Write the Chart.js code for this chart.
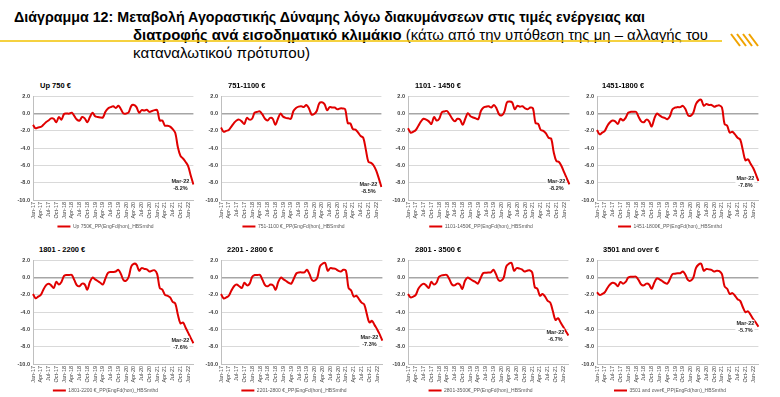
<!DOCTYPE html>
<html>
<head>
<meta charset="utf-8">
<script src="https://cdn.jsdelivr.net/npm/chart.js@4"></script>
<style>
  body { margin: 0; background: #fff; }
  #page { position: relative; width: 780px; height: 397px; overflow: hidden; background: #fff;
          font-family: "Liberation Sans Narrow", "Liberation Sans", Arial, sans-serif; }
  .tl { position: absolute; white-space: nowrap; font-size: 15px; line-height: 18px; color: #000;
        transform-origin: left center; }
  .tl b { font-weight: bold; }
  .pt { position: absolute; white-space: nowrap; font-size: 7.5px; line-height: 9px; font-weight: bold; color: #000;
        font-family: "Liberation Sans", Arial, sans-serif; }
  canvas { position: absolute; }
</style>
</head>
<body>
<div id="page">
  <div class="tl" data-w="631" style="left:14px; top:8px;"><b>Διάγραμμα 12: Μεταβολή Αγοραστικής Δύναμης λόγω διακυμάνσεων στις τιμές ενέργειας και</b></div>
  <div class="tl" data-w="575" style="left:133px; top:26px;"><b>διατροφής ανά εισοδηματικό κλιμάκιο</b> (κάτω από την υπόθεση της μη – αλλαγής του</div>
  <div class="tl" data-w="177" style="left:133px; top:44px;">καταναλωτικού πρότυπου)</div>
  <svg style="position:absolute; left:0; top:0;" width="780" height="60">
    <line x1="0" y1="41" x2="722" y2="41" stroke="#f2c200" stroke-width="1.5"/>
    <line x1="731" y1="34" x2="740" y2="46" stroke="#f0a300" stroke-width="2"/>
    <line x1="737" y1="34" x2="746" y2="46" stroke="#f0a300" stroke-width="2"/>
    <line x1="743" y1="34" x2="752" y2="46" stroke="#f0a300" stroke-width="2"/>
    <line x1="749" y1="34" x2="758" y2="46" stroke="#f0a300" stroke-width="2"/>
  </svg>
</div>

<script>
/* category labels */
const monthNames = ["Jan", "Feb", "Mar", "Apr", "May", "Jun", "Jul", "Aug", "Sep", "Oct", "Nov", "Dec"];
const yearNames = ["17", "18", "19", "20", "21", "22"];
const lastLabel = "Mar-22";

const panelTitles = ["Up 750 €", "751-1100 €", "1101 - 1450 €", "1451-1800 €",
                     "1801 - 2200 €", "2201 - 2800 €", "2801 - 3500 €", "3501 and over €"];

const legendNames = ["Up 750€_PP(EngFd(hon)_HBSmthd", "751-1100 €_PP(EngFd(hon)_HBSmthd",
                     "1101-1450€_PP(EngFd(hon)_HBSmthd", "1451-1800€_PP(EngFd(hon)_HBSmthd",
                     "1801-2200 €_PP(EngFd(hon)_HBSmthd", "2201-2800 €_PP(EngFd(hon)_HBSmthd",
                     "2801-3500€_PP(EngFd(hon)_HBSmthd", "3501 and over€_PP(EngFd(hon)_HBSmthd"];

/* series values, Jan-17 .. Mar-22 */
const upTo750 = [
  -1.3, -1.7, -1.6, -1.55, -1.3, -1.0, -0.8, -0.55, -0.6, -1.0, -0.4, -0.7,
  -0.05, 0.0, 0.0, 0.1, -0.3, -0.7, -0.8, -0.4, -0.55, -1.0, -0.4, 0.1,
  -0.3, -0.4, -0.45, -0.45, 0.2, 0.6, 0.75, 0.85, 0.65, 0.9, 0.5, 0.0,
  0.0, 0.15, 0.9, 1.0, 0.75, 0.1, 0.4, 0.35, 0.45, 0.2, 0.3, 0.4,
  0.4, -0.8, -0.8, -1.4, -1.4, -1.5, -1.8, -2.25, -3.9, -4.9, -5.2, -5.6,
  -6.1, -7.2, -8.2
];
const r751_1100 = [
  -1.6, -2.1, -2.0, -1.9, -1.5, -1.1, -0.8, -0.7, -0.9, -1.2, -0.5, -0.7,
  -0.6, 0.1, 0.2, 0.25, -0.1, -0.6, -0.8, -0.5, -0.6, -1.3, -0.6, 0.0,
  -0.35, -0.5, -0.55, -0.6, 0.3, 0.65, 0.8, 0.85, 0.75, 1.0, 0.6, -0.1,
  -0.05, 0.3, 1.2, 1.3, 1.1, 0.4, 0.75, 0.7, 0.7, 0.5, 0.6, 0.6,
  0.5, -1.1, -1.15, -1.8, -1.85, -2.2, -2.6, -2.8, -4.2, -5.6, -5.7, -6.0,
  -6.6, -7.5, -8.5
];
const r1101_1450 = [
  -1.7, -2.2, -2.1, -1.9, -1.4, -0.9, -0.6, -0.7, -0.9, -1.2, -0.4, -0.8,
  -0.6, 0.15, 0.25, 0.3, -0.1, -0.6, -0.9, -0.6, -0.7, -1.3, -0.6, 0.05,
  -0.3, -0.45, -0.55, -0.65, 0.3, 0.7, 0.8, 0.85, 0.7, 1.0, 0.6, -0.1,
  -0.2, 0.2, 1.3, 1.4, 1.3, 0.5, 0.9, 0.8, 0.85, 0.6, 0.5, 0.7,
  0.6, -1.1, -1.2, -1.9, -2.0, -2.3, -2.8, -2.9, -4.5, -5.5, -5.6, -6.1,
  -6.8, -7.5, -8.2
];
const r1451_1800 = [
  -1.9, -2.4, -2.2, -2.0, -1.4, -1.0, -0.8, -0.9, -1.2, -0.6, -0.8, -0.5,
  0.1, 0.2, 0.2, 0.2, -0.4, -0.9, -1.0, -0.7, -0.9, -1.5, -0.6, 0.0,
  -0.2, -0.4, -0.5, -0.65, -0.3, 0.5, 0.7, 0.75, 0.75, 0.9, 0.5, -0.2,
  -0.25, 0.1, 1.1, 1.5, 1.6, 0.9, 1.1, 1.0, 1.0, 0.8, 0.9, 0.95,
  0.7, -1.2, -1.4, -2.2, -2.1, -2.4, -2.8, -3.0, -4.2, -5.4, -5.3, -5.8,
  -6.3, -7.0, -7.8
];
const r1801_2200 = [
  -1.9, -2.4, -2.2, -2.0, -1.4, -0.9, -0.7, -0.9, -1.2, -0.5, -0.8, -0.5,
  0.2, 0.3, 0.3, 0.3, -0.3, -0.9, -1.0, -0.7, -0.8, -1.4, -0.5, 0.0,
  -0.2, -0.4, -0.6, -0.8, -0.1, 0.55, 0.65, 0.65, 0.7, 0.9, 0.4, -0.3,
  -0.35, 0.1, 1.3, 1.6, 1.5, 0.8, 1.1, 1.0, 0.95, 0.7, 0.8, 0.85,
  0.4, -1.2, -1.4, -2.0, -2.1, -2.3, -2.8, -3.0, -4.3, -5.3, -5.2, -5.8,
  -6.4, -7.0, -7.6
];
const r2201_2800 = [
  -1.9, -2.4, -2.3, -2.1, -1.5, -1.0, -0.8, -1.0, -1.2, -0.6, -0.9, -0.7,
  0.1, 0.3, 0.3, 0.3, -0.3, -0.9, -1.0, -0.8, -0.9, -1.4, -0.5, 0.0,
  -0.2, -0.4, -0.6, -0.7, -0.1, 0.5, 0.6, 0.6, 0.6, 0.9, 0.4, -0.3,
  -0.35, 0.0, 1.3, 1.6, 1.7, 0.8, 1.1, 1.05, 1.0, 0.8, 0.7, 0.9,
  0.8, -1.2, -1.5, -2.2, -2.1, -2.5, -2.9, -3.1, -4.2, -5.2, -5.0, -5.5,
  -6.0, -6.6, -7.3
];
const r2801_3500 = [
  -1.9, -2.3, -2.2, -2.0, -1.3, -0.9, -0.7, -0.9, -1.2, -0.5, -0.8, -0.6,
  0.1, 0.25, 0.3, 0.3, -0.2, -0.8, -0.9, -0.7, -0.8, -1.3, -0.4, 0.0,
  -0.15, -0.35, -0.5, -0.7, -0.1, 0.5, 0.55, 0.6, 0.6, 0.9, 0.4, -0.3,
  -0.35, 0.0, 1.3, 1.6, 1.7, 0.8, 1.1, 1.05, 0.95, 0.7, 0.8, 0.85,
  0.6, -1.1, -1.3, -2.1, -1.9, -2.2, -2.7, -2.9, -3.9, -4.9, -4.7, -5.2,
  -5.7, -6.2, -6.7
];
const r3501_over = [
  -1.7, -2.0, -1.9, -1.7, -1.2, -0.8, -0.6, -0.7, -1.0, -0.5, -0.7, -0.5,
  0.0, 0.1, 0.1, 0.1, -0.3, -0.8, -0.9, -0.7, -0.8, -1.3, -0.6, -0.1,
  -0.2, -0.4, -0.6, -0.7, -0.2, 0.4, 0.45, 0.5, 0.5, 0.7, 0.3, -0.3,
  -0.35, 0.0, 1.1, 1.5, 1.6, 0.8, 1.0, 0.95, 0.9, 0.7, 0.8, 0.75,
  0.4, -1.0, -1.3, -1.9, -1.8, -2.1, -2.5, -2.7, -3.4, -4.0, -3.9, -4.3,
  -4.8, -5.2, -5.7
];

const seriesList = [upTo750, r751_1100, r1101_1450, r1451_1800,
                    r1801_2200, r2201_2800, r2801_3500, r3501_over];

/* plot box of each panel: left / right edge of the plot, row */
const plotLeft = [33, 221, 408, 597, 33, 221, 408, 597];
const plotRight = [200, 388, 576, 765, 200, 389, 575, 765];
const plotTop = [94, 258];
const titleXY = [[40, 81], [228, 81], [415, 81], [602, 81], [39, 245], [227, 245], [415, 245], [603, 245]];

const Y_AXIS_W = 22;
const X_AXIS_H = 21;
const CANVAS_H = 149;

const labels = [];
yearNames.forEach(y => monthNames.forEach(m => labels.push(m + "-" + y)));
labels.length = labels.indexOf(lastLabel) + 1;

Chart.defaults.font.family = '"Liberation Sans", Arial, sans-serif';

/* end-of-line label */
const endLabel = {
  id: "endLabel",
  afterDatasetsDraw(chart) {
    const meta = chart.getDatasetMeta(0);
    const pt = meta.data[meta.data.length - 1];
    const vals = chart.data.datasets[0].data;
    const v = vals[vals.length - 1];
    const ctx = chart.ctx;
    const cx = pt.x - 13;
    ctx.save();
    ctx.font = 'bold 5.5px "Liberation Sans", Arial, sans-serif';
    ctx.fillStyle = "#fff";
    ctx.fillRect(cx - 10, pt.y - 7, 19, 14);
    ctx.fillStyle = "#262626";
    ctx.textAlign = "center";
    ctx.textBaseline = "middle";
    ctx.fillText(lastLabel, cx, pt.y - 3);
    ctx.fillText(v.toFixed(1) + "%", cx, pt.y + 4);
    ctx.restore();
  }
};

const page = document.getElementById("page");

seriesList.forEach((vals, i) => {
  const row = i < 4 ? 0 : 1;
  const cv = document.createElement("canvas");
  const w = plotRight[i] - plotLeft[i] + Y_AXIS_W + 2;
  cv.width = w;
  cv.height = CANVAS_H;
  cv.style.left = (plotLeft[i] - Y_AXIS_W) + "px";
  cv.style.top = (plotTop[row] - 4) + "px";
  cv.style.width = w + "px";
  cv.style.height = CANVAS_H + "px";
  page.appendChild(cv);

  new Chart(cv, {
    type: "line",
    data: {
      labels: labels,
      datasets: [{
        label: legendNames[i],
        data: vals,
        borderColor: "#e00000",
        backgroundColor: "#e00000",
        borderWidth: 2,
        pointRadius: 0,
        tension: 0.35,
        fill: false
      }]
    },
    options: {
      responsive: false,
      animation: false,
      devicePixelRatio: 1,
      layout: { padding: { top: 4, right: 2, left: 0, bottom: 0 } },
      plugins: {
        legend: {
          position: "bottom",
          labels: {
            boxWidth: 13, boxHeight: 2, padding: 3, color: "#595959", font: { size: 5 },
            generateLabels: chart => Chart.defaults.plugins.legend.labels.generateLabels(chart)
              .map(it => Object.assign(it, { lineWidth: 0, strokeStyle: "rgba(0,0,0,0)" }))
          }
        },
        tooltip: { enabled: false }
      },
      scales: {
        x: {
          grid: { display: false, drawTicks: false },
          border: { display: true, color: "#bfbfbf" },
          ticks: {
            autoSkip: false, maxRotation: 90, minRotation: 90, padding: 2,
            color: "#404040", font: { size: 5.5 },
            callback: (v, k) => (k % 3 === 0 ? labels[k] : "")
          },
          afterFit: s => { s.height = X_AXIS_H; }
        },
        y: {
          min: -10, max: 2,
          ticks: { stepSize: 2, padding: 3, color: "#404040", font: { size: 5.5, weight: "bold" },
                   callback: v => v.toFixed(1) },
          grid: {
            drawTicks: false,
            color: c => (c.tick.value === 0 ? "#a6a6a6" : "#d9d9d9"),
            lineWidth: c => (c.tick.value === 0 ? 1.5 : 1)
          },
          border: { display: true, color: "#bfbfbf" },
          afterFit: s => { s.width = Y_AXIS_W; }
        }
      }
    },
    plugins: [endLabel]
  });

  const t = document.createElement("div");
  t.className = "pt";
  t.textContent = panelTitles[i];
  t.style.left = titleXY[i][0] + "px";
  t.style.top = titleXY[i][1] + "px";
  page.appendChild(t);
});

/* fit title lines to the reference widths */
document.querySelectorAll(".tl").forEach(el => {
  const target = Number(el.dataset.w);
  const w = el.getBoundingClientRect().width;
  el.style.transform = "scaleX(" + (target / w) + ")";
});
</script>
</body>
</html>
